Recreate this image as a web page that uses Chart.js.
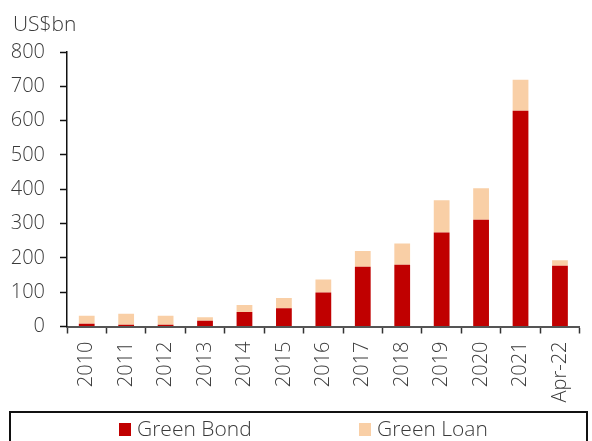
<!DOCTYPE html>
<html>
<head>
<meta charset="utf-8">
<script src="https://cdn.jsdelivr.net/npm/chart.js@4.4.1/dist/chart.umd.min.js"></script>
<style>
  html, body { margin: 0; padding: 0; background: #fff; }
  #wrap { width: 592px; height: 441px; }
</style>
</head>
<body>
<div id="wrap"><canvas id="greenChart" width="592" height="441"></canvas></div>
<script>
// Annual issuance, US$bn
const years = ['2010', '2011', '2012', '2013', '2014', '2015', '2016',
  '2017', '2018', '2019', '2020', '2021', 'Apr-22'];
const greenBond = [8, 5, 5, 17, 42, 53, 99, 174, 180, 274, 311, 629, 177];
const greenLoan = [23, 32, 26, 10, 21, 30, 38, 46, 62, 94, 92, 90, 16];
const yTicks = [0, 100, 200, 300, 400, 500, 600, 700, 800];

const FONT = '"Open Sans", "Noto Sans", sans-serif';
const TEXT = '#3a3a3a';

Chart.defaults.font.family = FONT;
Chart.defaults.font.size = 20;
Chart.defaults.font.weight = 300;
Chart.defaults.color = TEXT;

// unit label above the value axis
const unitLabel = {
  id: 'unitLabel',
  afterDraw(chart) {
    const ctx = chart.ctx;
    ctx.save();
    ctx.font = '300 21px ' + FONT;
    ctx.fillStyle = TEXT;
    ctx.textBaseline = 'alphabetic';
    ctx.fillText('US$bn', 13, 31);
    ctx.restore();
  }
};

// boxed legend along the bottom edge
const boxedLegend = {
  id: 'boxedLegend',
  afterDraw(chart) {
    const ctx = chart.ctx;
    ctx.save();
    ctx.strokeStyle = '#111';
    ctx.lineWidth = 2;
    ctx.strokeRect(10, 412, 577, 60);
    const slots = [119, 359];
    ctx.font = '300 21px ' + FONT;
    ctx.textBaseline = 'alphabetic';
    chart.data.datasets.forEach((ds, i) => {
      const x = slots[i];
      ctx.fillStyle = ds.backgroundColor;
      ctx.fillRect(x, 423, 12, 13);
      ctx.fillStyle = TEXT;
      ctx.fillText(ds.label, x + 18, 436);
    });
    ctx.restore();
  }
};

new Chart(document.getElementById('greenChart'), {
  type: 'bar',
  data: {
    labels: years,
    datasets: [
      {
        label: 'Green Bond',
        data: greenBond,
        backgroundColor: '#c00000',
        barPercentage: 0.4,
        categoryPercentage: 1
      },
      {
        label: 'Green Loan',
        data: greenLoan,
        backgroundColor: '#f9cfa6',
        barPercentage: 0.4,
        categoryPercentage: 1
      }
    ]
  },
  options: {
    responsive: false,
    animation: false,
    devicePixelRatio: 1,
    layout: { padding: { top: 52, right: 1, bottom: 0, left: 0 } },
    plugins: {
      legend: { display: false },
      tooltip: { enabled: false }
    },
    scales: {
      x: {
        stacked: true,
        afterFit: scale => { scale.height = 114.5; },
        border: { display: true, color: '#555', width: 2 },
        grid: {
          offset: true,
          drawOnChartArea: false,
          drawTicks: true,
          tickLength: 7,
          tickColor: '#333',
          tickWidth: 1.5
        },
        ticks: {
          minRotation: 90,
          maxRotation: 90,
          autoSkip: false,
          padding: 8
        }
      },
      y: {
        stacked: true,
        min: 0,
        max: 800,
        afterFit: scale => { scale.width = 67; },
        afterBuildTicks: scale => { scale.ticks = yTicks.map(v => ({ value: v })); },
        border: { display: true, color: '#111', width: 1.5 },
        grid: {
          drawOnChartArea: false,
          drawTicks: true,
          tickLength: 7,
          tickColor: '#111',
          tickWidth: 1.5
        },
        ticks: { padding: 15 }
      }
    }
  },
  plugins: [unitLabel, boxedLegend]
});
</script>
</body>
</html>
